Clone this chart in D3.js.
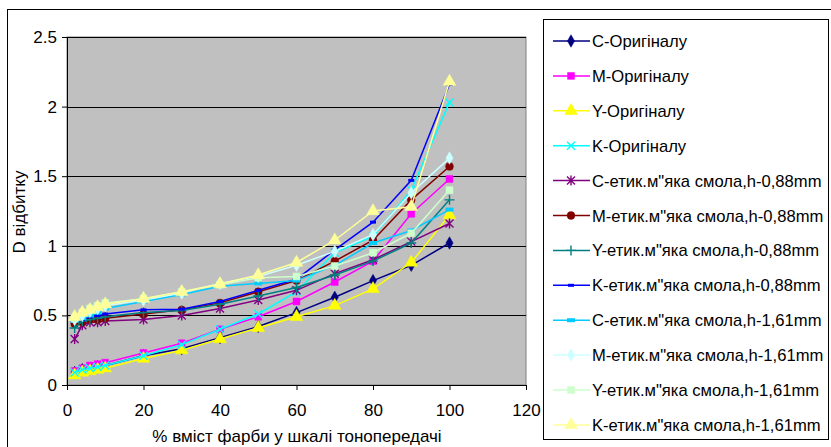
<html>
<head>
<meta charset="utf-8" />
<script src="https://cdn.jsdelivr.net/npm/d3@7"></script>
<style>
  body { margin: 0; background: #fff; }
  text { font-family: "Liberation Sans", Arial, sans-serif; }
</style>
</head>
<body>
<svg id="chart" width="831" height="447"></svg>
<script>
// tone scale steps (% ink)
const xVals = [2, 4, 6, 8, 10, 20, 30, 40, 50, 60, 70, 80, 90, 100];
const xTicks = [0, 20, 40, 60, 80, 100, 120];
const yTicks = [0, 0.5, 1, 1.5, 2, 2.5];

const seriesNames = [
  "C-Оригіналу", "M-Оригіналу", "Y-Оригіналу", "K-Оригіналу",
  "C-етик.м\"яка смола,h-0,88mm", "M-етик.м\"яка смола,h-0,88mm",
  "Y-етик.м\"яка смола,h-0,88mm", "K-етик.м\"яка смола,h-0,88mm",
  "C-етик.м\"яка смола,h-1,61mm", "M-етик.м\"яка смола,h-1,61mm",
  "Y-етик.м\"яка смола,h-1,61mm", "K-етик.м\"яка смола,h-1,61mm"
];

const cOrig = [0.09, 0.11, 0.12, 0.13, 0.14, 0.21, 0.26, 0.34, 0.42, 0.52, 0.63, 0.75, 0.86, 1.02];
const mOrig = [0.10, 0.12, 0.14, 0.15, 0.16, 0.23, 0.30, 0.40, 0.49, 0.60, 0.74, 0.89, 1.23, 1.48];
const yOrig = [0.07, 0.09, 0.10, 0.11, 0.12, 0.19, 0.25, 0.33, 0.41, 0.49, 0.57, 0.69, 0.88, 1.22];
const kOrig = [0.09, 0.11, 0.12, 0.13, 0.14, 0.21, 0.29, 0.40, 0.51, 0.67, 0.95, 1.07, 1.40, 2.03];
const c088 = [0.33, 0.43, 0.45, 0.45, 0.46, 0.47, 0.50, 0.55, 0.61, 0.68, 0.80, 0.90, 1.03, 1.16];
const m088 = [0.44, 0.45, 0.47, 0.47, 0.48, 0.51, 0.54, 0.59, 0.67, 0.75, 0.89, 1.04, 1.33, 1.57];
const y088 = [0.41, 0.46, 0.47, 0.48, 0.49, 0.52, 0.535, 0.58, 0.64, 0.70, 0.79, 0.89, 1.02, 1.33];
const k088 = [0.46, 0.47, 0.49, 0.50, 0.51, 0.54, 0.545, 0.60, 0.68, 0.76, 0.97, 1.17, 1.47, 2.16];
const c161 = [0.46, 0.48, 0.50, 0.52, 0.55, 0.60, 0.65, 0.71, 0.73, 0.75, 0.86, 1.02, 1.11, 1.26];
const m161 = [0.47, 0.50, 0.53, 0.55, 0.57, 0.61, 0.66, 0.73, 0.78, 0.86, 0.96, 1.08, 1.38, 1.63];
const y161 = [0.48, 0.52, 0.55, 0.57, 0.59, 0.62, 0.67, 0.72, 0.77, 0.78, 0.855, 0.95, 1.09, 1.40];
const k161 = [0.49, 0.52, 0.54, 0.56, 0.58, 0.62, 0.67, 0.725, 0.79, 0.88, 1.04, 1.25, 1.28, 2.18];

const allValues = [cOrig, mOrig, yOrig, kOrig, c088, m088, y088, k088, c161, m161, y161, k161];
const colors = ["#000080", "#FF00FF", "#FFFF00", "#00FFFF", "#800080", "#800000",
                "#008080", "#0000FF", "#00CCFF", "#CCFFFF", "#CCFFCC", "#FFFF99"];
const markers = ["diamond", "square", "triangle", "x", "star", "circle",
                 "plus", "dash", "bar", "diamond", "square", "triangle"];

const fontSize = 17;
const svg = d3.select("#chart");

// outer chart border
svg.append("rect").attr("x", 7.5).attr("y", 9.5).attr("width", 840).attr("height", 450)
  .attr("fill", "none").attr("stroke", "#000");

const plot = { left: 67, right: 526, top: 37, bottom: 385 };
const x = d3.scaleLinear().domain([0, 120]).range([plot.left, plot.right]);
const y = d3.scaleLinear().domain([0, 2.5]).range([plot.bottom, plot.top]);

svg.append("rect")
  .attr("x", plot.left).attr("y", plot.top)
  .attr("width", plot.right - plot.left).attr("height", plot.bottom - plot.top)
  .attr("fill", "#C0C0C0").attr("stroke", "#808080");

// gridlines
svg.append("g").selectAll("line").data(yTicks.filter(d => d > 0)).join("line")
  .attr("x1", plot.left).attr("x2", plot.right)
  .attr("y1", d => Math.round(y(d)) + 0.5).attr("y2", d => Math.round(y(d)) + 0.5)
  .attr("stroke", "#000").attr("stroke-width", 1);

const yAxis = svg.append("g").attr("transform", `translate(${plot.left},0)`)
  .call(d3.axisLeft(y).tickValues(yTicks).tickSize(5).tickPadding(5).tickFormat(d3.format("")));
const xAxis = svg.append("g").attr("transform", `translate(0,${plot.bottom})`)
  .call(d3.axisBottom(x).tickValues(xTicks).tickSize(5).tickPadding(14));
[yAxis, xAxis].forEach(a => {
  a.attr("font-size", fontSize).attr("font-family", "'Liberation Sans', Arial, sans-serif");
  a.selectAll("path, line").attr("stroke", "#000");
  a.selectAll("text").attr("fill", "#000");
});

svg.append("text").attr("transform", "translate(25,212) rotate(-90)")
  .attr("text-anchor", "middle").attr("font-size", fontSize).text("D відбитку");
svg.append("text").attr("x", 297).attr("y", 442)
  .attr("text-anchor", "middle").attr("font-size", fontSize).text("% вміст фарби у шкалі тонопередачі");

function drawMarker(g, type, color) {
  const sym = { diamond: d3.symbolDiamond, square: d3.symbolSquare, triangle: d3.symbolTriangle,
                circle: d3.symbolCircle };
  if (sym[type]) {
    const size = type === "diamond" ? 45 : type === "triangle" ? 70 : 48;
    g.append("path").attr("d", d3.symbol().type(sym[type]).size(size)())
      .attr("fill", color).attr("stroke", color).attr("stroke-width", 0.5);
  } else if (type === "x") {
    g.append("path").attr("d", "M-4,-4L4,4M-4,4L4,-4").attr("stroke", color).attr("stroke-width", 1.4);
  } else if (type === "star") {
    g.append("path").attr("d", "M-4,-4L4,4M-4,4L4,-4M0,-5L0,5").attr("stroke", color).attr("stroke-width", 1.4);
  } else if (type === "plus") {
    g.append("path").attr("d", "M-5,0L5,0M0,-5L0,5").attr("stroke", color).attr("stroke-width", 1.4);
  } else if (type === "dash") {
    g.append("rect").attr("x", -3).attr("y", -1.5).attr("width", 6).attr("height", 3).attr("fill", color);
  } else if (type === "bar") {
    g.append("rect").attr("x", -4).attr("y", -2).attr("width", 8).attr("height", 4).attr("fill", color);
  }
}

const line = d3.line().x(d => x(d[0])).y(d => y(d[1]));

allValues.forEach((vals, i) => {
  const pts = xVals.map((v, j) => [v, vals[j]]);
  const g = svg.append("g");
  g.append("path").datum(pts).attr("d", line)
    .attr("fill", "none").attr("stroke", colors[i]).attr("stroke-width", 1.5);
  pts.forEach(p => {
    const m = g.append("g").attr("transform", `translate(${x(p[0])},${y(p[1])})`);
    drawMarker(m, markers[i], colors[i]);
  });
});

// legend
const legend = svg.append("g");
legend.append("rect").attr("x", 543.5).attr("y", 19.5).attr("width", 285).attr("height", 420)
  .attr("fill", "#fff").attr("stroke", "#000");
seriesNames.forEach((name, i) => {
  const ly = 41 + i * 34.9;
  const g = legend.append("g").attr("transform", `translate(0,${ly})`);
  g.append("line").attr("x1", 553).attr("x2", 590).attr("y1", 0).attr("y2", 0)
    .attr("stroke", colors[i]).attr("stroke-width", 1.5);
  const m = g.append("g").attr("transform", "translate(571,0)");
  drawMarker(m, markers[i], colors[i]);
  g.append("text").attr("x", 592).attr("y", 6).attr("font-size", 16.6).text(name);
});
</script>
</body>
</html>
